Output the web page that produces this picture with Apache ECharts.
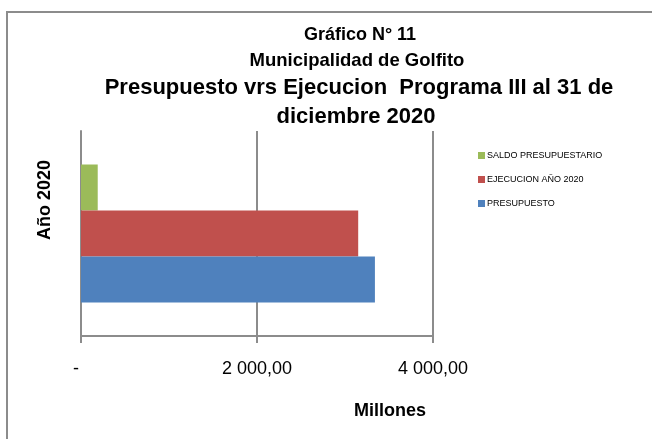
<!DOCTYPE html>
<html>
<head>
<meta charset="utf-8">
<script src="https://cdn.jsdelivr.net/npm/echarts@6/dist/echarts.min.js"></script>
<style>
html,body{margin:0;padding:0;background:#fff;}
#chart{width:652px;height:439px;}
</style>
</head>
<body>
<div id="chart"></div>
<script>
var categories = ['Año 2020'];
var seriesNames = ['SALDO PRESUPUESTARIO', 'EJECUCION AÑO 2020', 'PRESUPUESTO'];
var saldo = [190];
var ejecucion = [3150];
var presupuesto = [3340];
var xTicks = [0, 2000, 4000];
var xTickLabels = ['-', '2 000,00', '4 000,00'];
var titleLines = ['Gráfico N° 11', 'Municipalidad de Golfito', 'Presupuesto vrs Ejecucion  Programa III al 31 de', 'diciembre 2020'];
var colors = ['#9BBB59', '#C0504D', '#4F81BD'];

var FONT = 'Liberation Sans';
var chart = echarts.init(document.getElementById('chart'));
var axisGray = '#8c8c8c';

var option = {
  animation: false,
  backgroundColor: '#fff',
  color: colors,
  textStyle: { fontFamily: FONT },
  grid: { left: 81, right: 219, top: 131, bottom: 103, containLabel: false },
  legend: {
    orient: 'vertical',
    left: 478,
    top: 151,
    padding: 0,
    itemWidth: 7,
    itemHeight: 7,
    itemGap: 15,
    icon: 'rect',
    data: seriesNames,
    textStyle: { fontFamily: FONT, fontSize: 9, color: '#000', padding: [0, 0, 0, -3] }
  },
  xAxis: {
    type: 'value',
    min: 0,
    max: 4000,
    interval: 2000,
    axisLine: { show: true, lineStyle: { color: axisGray, width: 2 } },
    axisTick: { show: true, length: 7, lineStyle: { color: axisGray, width: 2 } },
    splitLine: { show: true, lineStyle: { color: axisGray, width: 2 } },
    axisLabel: {
      margin: 24,
      fontSize: 18,
      color: '#000',
      fontFamily: FONT,
      formatter: function (v) {
        var i = xTicks.indexOf(v);
        if (i === 0) return xTickLabels[0] + '  ';
        return i >= 0 ? xTickLabels[i] : '';
      }
    }
  },
  yAxis: {
    type: 'category',
    data: categories,
    axisLine: { show: true, lineStyle: { color: axisGray, width: 2 } },
    axisTick: { show: false },
    axisLabel: { show: false },
    splitLine: { show: false }
  },
  series: [
    { name: seriesNames[0], type: 'bar', data: saldo, barWidth: 46, barGap: '0%', itemStyle: { color: colors[0] } },
    { name: seriesNames[1], type: 'bar', data: ejecucion, barWidth: 46, barGap: '0%', itemStyle: { color: colors[1] } },
    { name: seriesNames[2], type: 'bar', data: presupuesto, barWidth: 46, barGap: '0%', itemStyle: { color: colors[2] } }
  ],
  graphic: [
    { type: 'rect', shape: { x: 7, y: 12, width: 700, height: 500 }, style: { fill: 'none', stroke: axisGray, lineWidth: 2 }, silent: true, z: -1 },
    { type: 'text', x: 360, y: 35, style: { text: titleLines[0], font: 'bold 18px "' + FONT + '"', fill: '#000', align: 'center', verticalAlign: 'middle' } },
    { type: 'text', x: 357, y: 61, style: { text: titleLines[1], font: 'bold 18.5px "' + FONT + '"', fill: '#000', align: 'center', verticalAlign: 'middle' } },
    { type: 'text', x: 359, y: 88, style: { text: titleLines[2], font: 'bold 22px "' + FONT + '"', fill: '#000', align: 'center', verticalAlign: 'middle' } },
    { type: 'text', x: 356, y: 117, style: { text: titleLines[3], font: 'bold 22px "' + FONT + '"', fill: '#000', align: 'center', verticalAlign: 'middle' } },
    { type: 'text', x: 45, y: 200, rotation: Math.PI / 2, style: { text: categories[0], font: 'bold 18px "' + FONT + '"', fill: '#000', align: 'center', verticalAlign: 'middle' } },
    { type: 'text', x: 390, y: 411, style: { text: 'Millones', font: 'bold 18px "' + FONT + '"', fill: '#000', align: 'center', verticalAlign: 'middle' } }
  ]
};
chart.setOption(option);
</script>
</body>
</html>
